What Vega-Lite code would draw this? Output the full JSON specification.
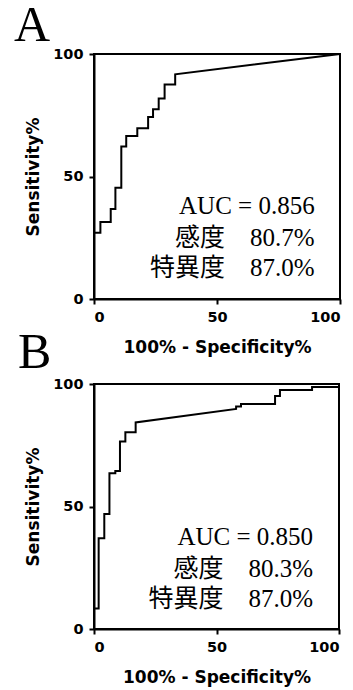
{
  "$schema": "https://vega.github.io/schema/vega-lite/v6.json",
  "background": "white",
  "padding": {"left": 13, "top": 0, "right": 0, "bottom": 0},
  "spacing": -30,
  "config": {
    "view": {"stroke": "black", "strokeWidth": 2},
    "axis": {
      "grid": false,
      "domainColor": "black", "domainWidth": 2,
      "tickColor": "black", "tickWidth": 2, "tickSize": 5,
      "labelFont": "DejaVu Sans", "labelFontWeight": "bold", "labelFontSize": 14.5, "labelColor": "black",
      "titleFont": "DejaVu Sans", "titleFontWeight": "bold", "titleFontSize": 17, "titleColor": "black"
    },
    "axisX": {"labelPadding": 6, "titlePadding": 16},
    "axisY": {"labelPadding": 6, "titlePadding": 10}
  },
  "datasets": {
    "rocA": [
      {"i": 0, "fpr": 0, "sens": 0}, {"i": 1, "fpr": 0, "sens": 27},
      {"i": 2, "fpr": 2.6, "sens": 27}, {"i": 3, "fpr": 2.6, "sens": 31.4},
      {"i": 4, "fpr": 6.8, "sens": 31.4}, {"i": 5, "fpr": 6.8, "sens": 36.7},
      {"i": 6, "fpr": 8.7, "sens": 36.7}, {"i": 7, "fpr": 8.7, "sens": 45.4},
      {"i": 8, "fpr": 11.1, "sens": 45.4}, {"i": 9, "fpr": 11.1, "sens": 62.2},
      {"i": 10, "fpr": 13.1, "sens": 62.2}, {"i": 11, "fpr": 13.1, "sens": 66.5},
      {"i": 12, "fpr": 17.6, "sens": 66.5}, {"i": 13, "fpr": 17.6, "sens": 69.7},
      {"i": 14, "fpr": 22, "sens": 69.7}, {"i": 15, "fpr": 22, "sens": 74.3},
      {"i": 16, "fpr": 24, "sens": 74.3}, {"i": 17, "fpr": 24, "sens": 77.4},
      {"i": 18, "fpr": 26.3, "sens": 77.4}, {"i": 19, "fpr": 26.3, "sens": 81.8},
      {"i": 20, "fpr": 28.7, "sens": 81.8}, {"i": 21, "fpr": 28.7, "sens": 87.6},
      {"i": 22, "fpr": 33, "sens": 87.6}, {"i": 23, "fpr": 33, "sens": 91.7},
      {"i": 24, "fpr": 100, "sens": 100}
    ],
    "rocB": [
      {"i": 0, "fpr": 0, "sens": 0}, {"i": 1, "fpr": 0, "sens": 8.4},
      {"i": 2, "fpr": 1.9, "sens": 8.4}, {"i": 3, "fpr": 1.9, "sens": 37},
      {"i": 4, "fpr": 4.2, "sens": 37}, {"i": 5, "fpr": 4.2, "sens": 46.9},
      {"i": 6, "fpr": 6.3, "sens": 46.9}, {"i": 7, "fpr": 6.3, "sens": 63.6},
      {"i": 8, "fpr": 8.7, "sens": 63.6}, {"i": 9, "fpr": 8.7, "sens": 64.5},
      {"i": 10, "fpr": 10.6, "sens": 64.5}, {"i": 11, "fpr": 10.6, "sens": 76.5},
      {"i": 12, "fpr": 12.8, "sens": 76.5}, {"i": 13, "fpr": 12.8, "sens": 80.3},
      {"i": 14, "fpr": 17, "sens": 80.3}, {"i": 15, "fpr": 17, "sens": 84.3},
      {"i": 16, "fpr": 58, "sens": 89.8}, {"i": 17, "fpr": 58, "sens": 90.8},
      {"i": 18, "fpr": 60, "sens": 90.8}, {"i": 19, "fpr": 60, "sens": 91.8},
      {"i": 20, "fpr": 73.9, "sens": 91.8}, {"i": 21, "fpr": 73.9, "sens": 95.1},
      {"i": 22, "fpr": 75.9, "sens": 95.1}, {"i": 23, "fpr": 75.9, "sens": 97.6},
      {"i": 24, "fpr": 89, "sens": 97.6}, {"i": 25, "fpr": 89, "sens": 98.8},
      {"i": 26, "fpr": 100, "sens": 98.8}, {"i": 27, "fpr": 100, "sens": 100}
    ],
    "txtA": [
      {"label": "AUC = 0.856", "fpr": 89.7, "sens": 34.6},
      {"label": "感度　80.7%", "fpr": 89.7, "sens": 21.6},
      {"label": "特異度　87.0%", "fpr": 89.7, "sens": 9.4}
    ],
    "txtB": [
      {"label": "AUC = 0.850", "fpr": 89.4, "sens": 34.3},
      {"label": "感度　80.3%", "fpr": 89.4, "sens": 21.3},
      {"label": "特異度　87.0%", "fpr": 89.4, "sens": 9.1}
    ]
  },
  "vconcat": [
    {
      "width": 246, "height": 245,
      "title": {"text": "A", "anchor": "start", "frame": "group", "dx": -80, "offset": -55, "baseline": "bottom",
                "font": "Liberation Serif", "fontSize": 50, "fontWeight": "normal", "color": "black"},
      "encoding": {
        "x": {"field": "fpr", "type": "quantitative", "scale": {"domain": [0, 100], "nice": false},
              "axis": {"values": [0, 50, 100], "title": "100% - Specificity%"}},
        "y": {"field": "sens", "type": "quantitative", "scale": {"domain": [0, 100], "nice": false},
              "axis": {"values": [0, 50, 100], "title": "Sensitivity%"}}
      },
      "layer": [
        {"data": {"name": "rocA"}, "mark": {"type": "line", "color": "black", "strokeWidth": 2},
         "encoding": {"order": {"field": "i", "type": "quantitative"}}},
        {"data": {"name": "txtA"},
         "mark": {"type": "text", "align": "right", "baseline": "alphabetic", "font": "Liberation Serif, Noto Sans CJK JP", "fontSize": 25, "color": "black"},
         "encoding": {"text": {"field": "label"}}}
      ]
    },
    {
      "width": 245, "height": 245,
      "title": {"text": "B", "anchor": "start", "frame": "group", "dx": -76, "offset": -52, "baseline": "bottom",
                "font": "Liberation Serif", "fontSize": 50, "fontWeight": "normal", "color": "black"},
      "encoding": {
        "x": {"field": "fpr", "type": "quantitative", "scale": {"domain": [0, 100], "nice": false},
              "axis": {"values": [0, 50, 100], "title": "100% - Specificity%"}},
        "y": {"field": "sens", "type": "quantitative", "scale": {"domain": [0, 100], "nice": false},
              "axis": {"values": [0, 50, 100], "title": "Sensitivity%"}}
      },
      "layer": [
        {"data": {"name": "rocB"}, "mark": {"type": "line", "color": "black", "strokeWidth": 2},
         "encoding": {"order": {"field": "i", "type": "quantitative"}}},
        {"data": {"name": "txtB"},
         "mark": {"type": "text", "align": "right", "baseline": "alphabetic", "font": "Liberation Serif, Noto Sans CJK JP", "fontSize": 25, "color": "black"},
         "encoding": {"text": {"field": "label"}}}
      ]
    }
  ]
}
